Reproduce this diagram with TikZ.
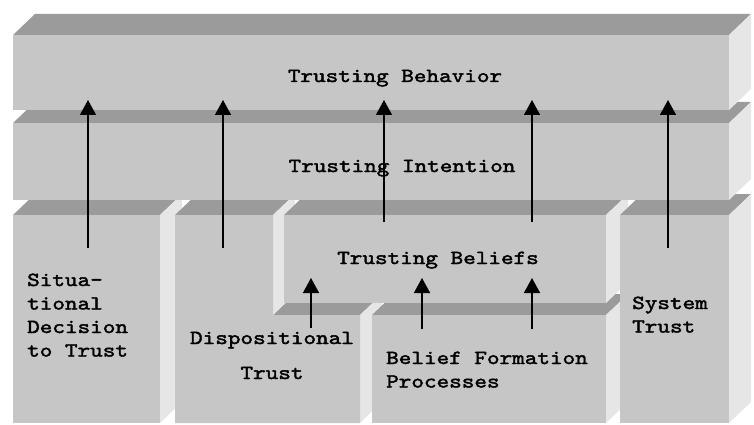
\documentclass[tikz,border=0pt]{standalone}
\usepackage{fontspec}
\newfontfamily\trustfont[FakeStretch=1.2,FakeBold=2]{lmmono10-regular.otf}
\usetikzlibrary{positioning,arrows.meta}
\definecolor{topgray}{RGB}{155,155,155}
\definecolor{frontgray}{RGB}{198,198,198}
\definecolor{sidegray}{RGB}{230,230,230}
\tikzset{lbl/.style={font=\trustfont\fontsize{20}{23.5}\selectfont,inner sep=0pt},
         arr/.style={line width=1.4pt,-{Triangle[width=16pt,length=15pt]}}}
\newcommand{\depx}{22}
\newcommand{\depy}{21}
\newcommand{\blk}[4]{%
  \fill[topgray] (#1,#2) -- (#1+\depx,#2-\depy) -- (#3+\depx,#2-\depy) -- (#3,#2) -- cycle;
  \fill[sidegray] (#3,#2) -- (#3+\depx,#2-\depy) -- (#3+\depx,#4-\depy) -- (#3,#4) -- cycle;
  \fill[frontgray] (#1,#2) rectangle (#3,#4);}

\begin{document}
\begin{tikzpicture}[x=1pt,y=-1pt]
\useasboundingbox (0,0) rectangle (754,425);
\clip (0,0) rectangle (754,425);
\blk{13}{215}{160}{423}
\fill[topgray] (175,215) -- (197,194) -- (295,194) -- (273,215) -- cycle;
\fill[topgray] (273,315) -- (295,294) -- (382,294) -- (360,315) -- cycle;
\fill[sidegray] (273,215) -- (295,194) -- (295,294) -- (273,315) -- cycle;
\fill[sidegray] (360,315) -- (382,294) -- (382,402) -- (360,423) -- cycle;
\fill[frontgray] (175,215) -- (273,215) -- (273,315) -- (360,315) -- (360,423) -- (175,423) -- cycle;
\blk{372}{315}{606}{423}
\blk{284}{215}{606}{303}
\blk{620}{215}{729}{423}
\blk{13}{123}{729}{200}
\blk{13}{35}{729}{110}

\node[lbl,anchor=base] (beh) at (395,82) {Trusting Behavior};
\node[lbl,anchor=base] (int) at (402,172) {Trusting Intention};
\node[lbl,anchor=base] (bel) at (438,264) {Trusting Beliefs};
\node[lbl,anchor=base west,align=left] (sit) at (27,356.5) {Situa-\\tional\\Decision\\to Trust};
\node[lbl,anchor=base,align=center] (disp) at (272,379) {Dispositional\\[11.5pt]Trust};
\node[lbl,anchor=base west,align=left] (bfp) at (386,387.5) {Belief Formation\\Processes};
\node[lbl,anchor=base west,align=left] (sys) at (632,332.5) {System\\Trust};

\coordinate (sit-a) at (88,248);  \coordinate (sit-b) at (88,100);
\coordinate (disp-a) at (223,248); \coordinate (disp-b) at (223,100);
\coordinate (bel-a) at (384,222); \coordinate (bel-b) at (384,100);
\coordinate (bel-c) at (532,222); \coordinate (bel-d) at (532,100);
\coordinate (sys-a) at (668,248); \coordinate (sys-b) at (668,100);
\coordinate (disp-c) at (311,328); \coordinate (disp-d) at (311,278);
\coordinate (bfp-a) at (422,329); \coordinate (bfp-b) at (422,278);
\coordinate (bfp-c) at (532,329); \coordinate (bfp-d) at (532,278);
\draw[arr] (sit-a) -- (sit-b);
\draw[arr] (disp-a) -- (disp-b);
\draw[arr] (bel-a) -- (bel-b);
\draw[arr] (bel-c) -- (bel-d);
\draw[arr] (sys-a) -- (sys-b);
\draw[arr] (disp-c) -- (disp-d);
\draw[arr] (bfp-a) -- (bfp-b);
\draw[arr] (bfp-c) -- (bfp-d);
\end{tikzpicture}
\end{document}
